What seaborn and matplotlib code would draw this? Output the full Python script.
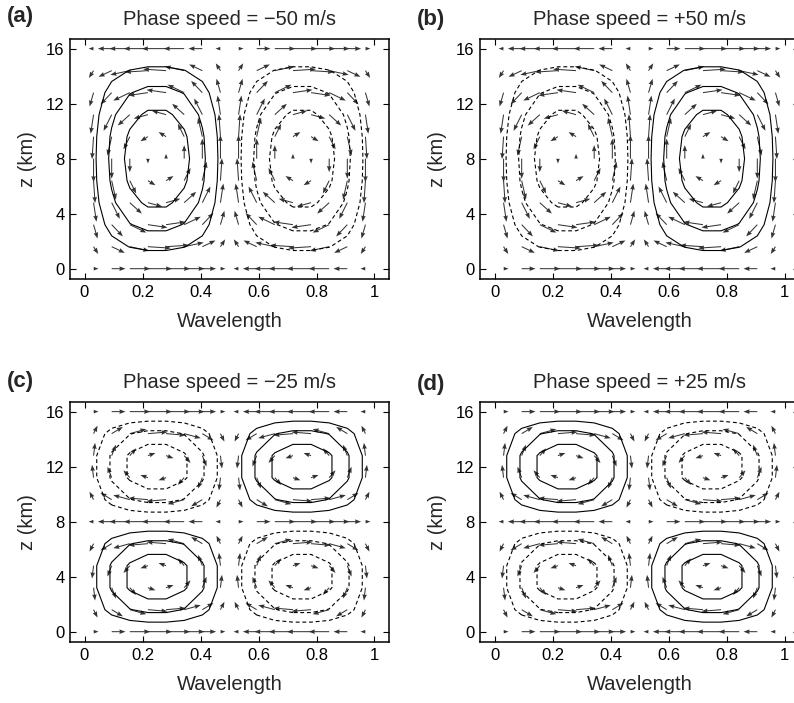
import numpy as np
import matplotlib
matplotlib.use("Agg")
import matplotlib.pyplot as plt
import seaborn as sns

# model grid (fraction of a wavelength, height in km)
x_grid = [0.03125, 0.09375, 0.15625, 0.21875, 0.28125, 0.34375, 0.40625, 0.46875,
          0.53125, 0.59375, 0.65625, 0.71875, 0.78125, 0.84375, 0.90625, 0.96875]
z_grid = [0.0, 1.6, 3.2, 4.8, 6.4, 8.0, 9.6, 11.2, 12.8, 14.4, 16.0]

# horizontal structure across one wavelength
sin_x = [0.20, 0.56, 0.83, 0.98, 0.98, 0.83, 0.56, 0.20,
         -0.20, -0.56, -0.83, -0.98, -0.98, -0.83, -0.56, -0.20]
cos_x = [0.98, 0.83, 0.56, 0.20, -0.20, -0.56, -0.83, -0.98,
         -0.98, -0.83, -0.56, -0.20, 0.20, 0.56, 0.83, 0.98]

# vertical structure: one cell (|c| = 50 m/s), two cells (|c| = 25 m/s)
sin_z1 = [0.0, 0.309, 0.588, 0.809, 0.951, 1.0, 0.951, 0.809, 0.588, 0.309, 0.0]
cos_z1 = [1.0, 0.951, 0.809, 0.588, 0.309, 0.0, -0.309, -0.588, -0.809, -0.951, -1.0]
sin_z2 = [0.0, 0.588, 0.951, 0.951, 0.588, 0.0, -0.588, -0.951, -0.951, -0.588, 0.0]
cos_z2 = [1.0, 0.809, 0.309, -0.309, -0.809, -1.0, -0.809, -0.309, 0.309, 0.809, 1.0]

phase_speeds = [-50, 50, -25, 25]
panel_tags = ["(a)", "(b)", "(c)", "(d)"]
contour_levels = [-0.75, -0.5, -0.25, 0.25, 0.5, 0.75]
x_ticks = [0, 0.2, 0.4, 0.6, 0.8, 1]
x_tick_labels = ["0", "0.2", "0.4", "0.6", "0.8", "1"]
z_ticks = [0, 4, 8, 12, 16]

sns.set_theme(style="ticks")
plt.rcParams["font.family"] = ["Liberation Sans", "DejaVu Sans"]

fig = plt.figure(figsize=(7.94, 7.03), dpi=100)
W, H = 794, 703
boxes = [(70, 39), (480, 39), (70, 402), (480, 402)]
tag_pos = [(7, 6), (417, 9), (7, 371), (417, 374)]

sx = np.array(sin_x)
cx = np.array(cos_x)
X, Z = np.meshgrid(x_grid, z_grid)

for i, c in enumerate(phase_speeds):
    left, top = boxes[i]
    ax = fig.add_axes([left / W, 1 - (top + 240) / H, 319 / W, 240 / H])

    if abs(c) == 50:
        sz, cz, w_amp = np.array(sin_z1), np.array(cos_z1), 1.75
    else:
        sz, cz, w_amp = np.array(sin_z2), np.array(cos_z2), 1.0
    sign = 1 if c < 0 else -1

    psi = sign * np.outer(sz, sx)
    u = 0.085 * np.outer(cz, sx)
    w = -w_amp * np.outer(sz, cx)

    styles = [(0, (3.5, 2.5)) if lv < 0 else "solid" for lv in contour_levels]
    ax.contour(X, Z, psi, levels=contour_levels, colors="black",
               linewidths=0.8, linestyles=styles)
    ax.quiver(X, Z, u, w, angles="xy", scale_units="xy", scale=1,
              pivot="tail", color="#333333", width=0.0032,
              headwidth=4.5, headlength=6, headaxislength=5.5)

    ax.set_xlim(-0.05, 1.05)
    ax.set_ylim(-0.75, 16.7)
    ax.set_xticks(x_ticks)
    ax.set_xticklabels(x_tick_labels)
    ax.set_yticks(z_ticks)
    ax.tick_params(direction="in", top=True, right=True, length=4,
                   width=0.8, labelsize=12, colors="black", pad=4)
    for sp in ax.spines.values():
        sp.set_linewidth(1.1)
        sp.set_color("black")
    ax.set_xlabel("Wavelength", fontsize=14.5, labelpad=9)
    ax.set_ylabel("z (km)", fontsize=14.5, labelpad=6)
    sign_txt = "\u2212" if c < 0 else "+"
    ax.set_title(f"Phase speed = {sign_txt}{abs(c)} m/s", fontsize=14.5, pad=10)

    tx, ty = tag_pos[i]
    fig.text(tx / W, 1 - ty / H, panel_tags[i], fontsize=16, fontweight="bold",
             ha="left", va="top")

fig.savefig("out.png", dpi=100)
